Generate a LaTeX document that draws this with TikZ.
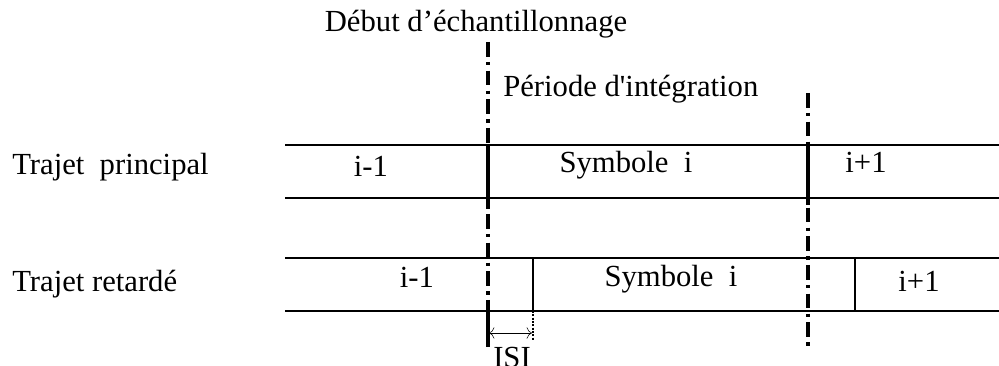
\documentclass[tikz,border=0pt]{standalone}
\usepackage{fontspec}
\setmainfont{Liberation Serif}
\newfontfamily\droit{Liberation Serif}
\usetikzlibrary{arrows.meta}

\begin{document}
\begin{tikzpicture}[x=0.75pt, y=-0.75pt,
    trait/.style={line width=2.2pt},
    sep/.style={line width=2pt},
    axe/.style={line width=3.2pt, dash pattern=on 11pt off 4pt on 2.5pt off 4pt},
    txt/.style={font=\fontsize{23}{27}\selectfont, inner sep=0pt, anchor=base}]
  \useasboundingbox (0,0) rectangle (999,366);

  % les deux trajets
  \draw [trait] (285,145) -- (999,145);
  \draw [trait] (285,198) -- (999,198);
  \draw [trait] (285,258) -- (999,258);
  \draw [trait] (285,311) -- (999,311);

  % instants d'echantillonnage
  \draw [axe] (488,42) -- (488,312);
  \draw [axe] (808,93) -- (808,348);
  \draw [line width=3.2pt] (488,145) -- (488,205);
  \draw [line width=3.2pt] (488,311) -- (488,347);
  \draw [line width=3.2pt] (808,145) -- (808,205);

  % frontieres du trajet retarde
  \draw [sep] (533,258) -- (533,311);
  \draw [sep, dash pattern=on 1.5pt off 1pt] (533,311) -- (533,340);
  \draw [sep] (855,258) -- (855,311);

  \coordinate (isiA) at (489,333);
  \coordinate (isiB) at (532,333);
  \draw [{To[length=4pt]}-{To[length=4pt]}, thin] (isiA) -- (isiB);
  \node [txt] (isi) at (512,368) {ISI};

  \node [txt] (debut) at (476,32) {Début d'échantillonnage};
  \node [txt, anchor=base west] (periode) at (503,97) {\droit Période d'intégration};
  \node [txt, anchor=base west] (tp) at (12,175) {Trajet\ \ principal};
  \node [txt, anchor=base west] (tr) at (12,292) {Trajet retardé};

  \node [txt] (p1) at (371,177) {i-1};
  \node [txt] (p2) at (626,173) {Symbole\ \ i};
  \node [txt] (p3) at (866,173) {i+1};

  \node [txt] (r1) at (417,288) {i-1};
  \node [txt] (r2) at (671,287) {Symbole\ \ i};
  \node [txt] (r3) at (919,292) {i+1};
\end{tikzpicture}
\end{document}
